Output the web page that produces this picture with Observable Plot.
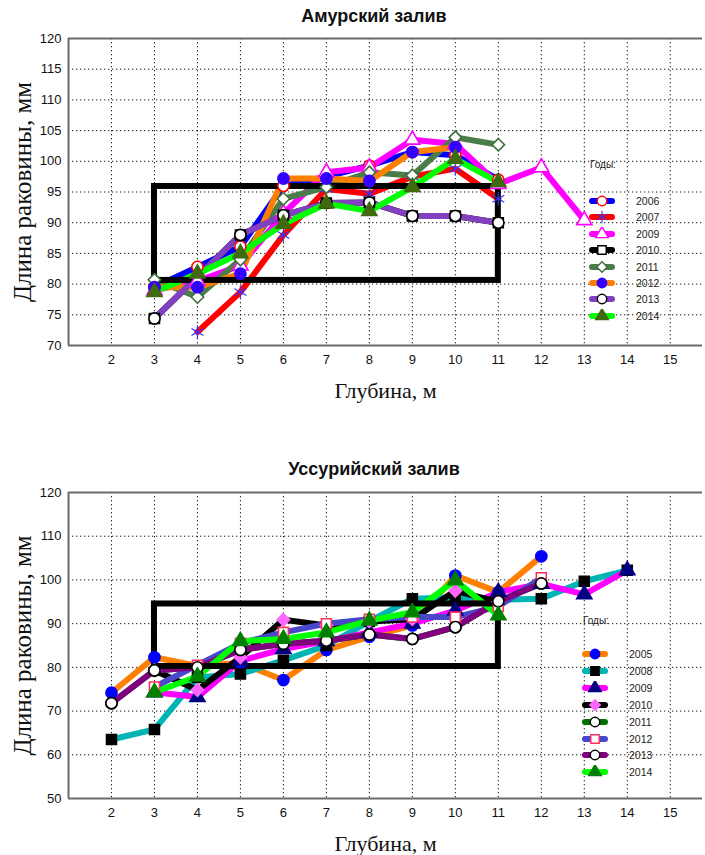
<!DOCTYPE html>
<html><head><meta charset="utf-8">
<script src="https://cdn.jsdelivr.net/npm/d3@7"></script>
<script src="https://cdn.jsdelivr.net/npm/@observablehq/plot@0.6"></script>
<style>
body{margin:0;background:#fff;}
#root{position:relative;width:705px;height:855px;overflow:hidden;background:#fff;font-family:"Liberation Sans",Arial,sans-serif;}
.title{position:absolute;left:224px;width:300px;text-align:center;font-weight:bold;font-size:18px;color:#111;line-height:20px;}
.chart{position:absolute;left:0;}
.leghead{position:absolute;font-size:10px;color:#222;}
.legrow{position:absolute;height:14px;}
.legrow svg{position:absolute;left:0;top:0;}
.legrow span{position:absolute;top:0;line-height:14px;font-size:10.5px;color:#222;}
</style></head><body>
<div id="root"></div>
<script>
// ---------- data ----------
const depths = [2, 3, 4, 5, 6, 7, 8, 9, 10, 11, 12, 13, 14];
const xTicks = [2, 3, 4, 5, 6, 7, 8, 9, 10, 11, 12, 13, 14, 15];
const amurYTicks = [70, 75, 80, 85, 90, 95, 100, 105, 110, 115, 120];
const ussuriYTicks = [50, 60, 70, 80, 90, 100, 110, 120];

const amurTitle = "Амурский залив";
const ussuriTitle = "Уссурийский залив";
const xLabel = "Глубина, м";
const yLabel = "Длина раковины, мм";
const legendHead = "Годы:";

const amurYears = ["2006", "2007", "2009", "2010", "2011", "2012", "2013", "2014"];
const amur2006 = [null, 79.5, 82.8, 86.1, 96.0, 97.5, 99.3, 101.5, 101.0, 97.0, null, null, null];
const amur2007 = [null, null, 72.2, 78.7, 88.0, 95.5, 94.7, 97.5, 98.8, 93.9, null, null, null];
const amur2009 = [null, 79.0, 80.5, 83.0, 91.5, 98.2, 99.0, 103.5, 102.8, 96.3, 99.0, 90.4, null];
const amur2010 = [null, 74.4, null, 88.0, 91.2, 93.2, 93.3, 91.1, 91.1, 90.0, null, null, null];
const amur2011 = [null, 80.7, 77.9, 84.0, 93.9, 95.8, 98.2, 97.7, 103.9, 102.7, null, null, null];
const amur2012 = [null, 79.5, 79.5, 81.7, 97.2, 97.2, 96.8, 101.5, 102.3, null, null, null, null];
const amur2013 = [null, 74.4, null, 88.0, 91.2, 93.2, 93.3, 91.1, 91.1, 90.0, null, null, null];
const amur2014 = [null, 78.7, 81.7, 85.0, 89.8, 93.1, 91.9, 95.8, 100.4, 96.6, null, null, null];
const amurBox = [{x1: 3, x2: 11, y1: 80.6, y2: 95.9}];

const ussuriYears = ["2005", "2008", "2009", "2010", "2011", "2012", "2013", "2014"];
const ussuri2005 = [74.2, 82.3, 80.3, 81.0, 77.1, 84.0, 87.0, 89.6, 101.0, 97.2, 105.4, null, null];
const ussuri2008 = [63.5, 65.8, 77.7, 78.5, 81.6, 85.0, 90.5, 95.7, 96.0, 95.5, 95.7, 99.7, 102.2];
const ussuri2009 = [null, 74.3, 73.2, 81.5, 84.2, 86.0, 88.0, 90.0, 93.0, 97.2, 99.1, 96.7, 102.2];
const ussuri2010 = [null, 79.3, 74.8, 82.3, 90.9, 89.6, 90.5, 91.0, 97.5, 95.0, null, null, null];
const ussuri2011 = [71.8, 79.3, 80.0, 84.0, 85.4, 86.1, 87.5, 86.5, 89.2, 95.1, 99.2, null, null];
const ussuri2012 = [null, 75.5, 80.5, 85.5, 88.0, 90.0, 91.0, 91.5, 91.5, 93.9, 100.5, null, null];
const ussuri2013 = [71.8, 79.3, 80.0, 84.0, 85.4, 86.1, 87.5, 86.5, 89.2, 95.1, 99.2, null, null];
const ussuri2014 = [null, 74.3, 77.9, 86.0, 86.5, 88.0, 90.7, 92.6, 99.9, 91.9, null, null, null];
const ussuriBox = [{x1: 3, x2: 11, y1: 80.2, y2: 94.5}];

// ---------- styles ----------
const amurStyles = [
  {line: "#0000ff", symbol: "circle", fill: "#ffffff", stroke: "#ff0000"},
  {line: "#ff0000", symbol: "asterisk", fill: "none", stroke: "#3333ff"},
  {line: "#ff00ff", symbol: "triangle", fill: "#ffffff", stroke: "#ff00ff"},
  {line: "#000000", symbol: "square", fill: "#ffffff", stroke: "#000000"},
  {line: "#4a7d4a", symbol: "diamond2", fill: "#ffffff", stroke: "#3c6e3c"},
  {line: "#ff8000", symbol: "circle", fill: "#3300ff", stroke: "#3300ff"},
  {line: "#8040c0", symbol: "circle", fill: "#ffffff", stroke: "#000000"},
  {line: "#00ff00", symbol: "triangle", fill: "#3f6a10", stroke: "#3f6a10"}
];
const ussuriStyles = [
  {line: "#ff8000", symbol: "circle", fill: "#0000ff", stroke: "#0000ff"},
  {line: "#00b4b4", symbol: "square", fill: "#000000", stroke: "#000000"},
  {line: "#ff00ff", symbol: "triangle", fill: "#000080", stroke: "#000080"},
  {line: "#000000", symbol: "diamond2", fill: "#ff66ff", stroke: "#ff66ff"},
  {line: "#007000", symbol: "circle", fill: "#ffffff", stroke: "#000000"},
  {line: "#4848c8", symbol: "square", fill: "#ffffff", stroke: "#ff3060"},
  {line: "#800080", symbol: "circle", fill: "#ffffff", stroke: "#000000"},
  {line: "#00ff00", symbol: "triangle", fill: "#008000", stroke: "#008000"}
];

const symbolMap = {circle: d3.symbolCircle, square: d3.symbolSquare, triangle: d3.symbolTriangle, diamond2: d3.symbolDiamond2, asterisk: d3.symbolAsterisk};

function rowsOf(values) {
  return depths.map((d, i) => ({depth: d, value: values[i]})).filter(r => r.value != null);
}

function makeChart(cfg) {
  const series = cfg.values.map(rowsOf);
  const marks = [
    Plot.gridX(xTicks, {stroke: "#000", strokeOpacity: 0.9, strokeWidth: 1, strokeDasharray: "1.3,2.7"}),
    Plot.gridY(cfg.yTicks, {stroke: "#000", strokeOpacity: 0.9, strokeWidth: 1, strokeDasharray: "1.3,2.7"}),
    Plot.ruleX([cfg.xDomain[0]], {stroke: "#6a6a6a", strokeWidth: 2}),
    Plot.ruleY(cfg.yDomain, {stroke: "#6a6a6a", strokeWidth: 2}),
    Plot.axisX({ticks: xTicks, tickSize: 0, tickPadding: 9, fontSize: 13, label: null, tickFormat: d => String(d)}),
    Plot.axisY({ticks: cfg.yTicks, tickSize: 0, tickPadding: 7, fontSize: 13, label: null, tickFormat: d => String(d)})
  ];
  series.forEach((rows, i) => {
    marks.push(Plot.line(rows, {x: "depth", y: "value", stroke: cfg.styles[i].line, strokeWidth: 6, strokeLinejoin: "round", strokeLinecap: "round"}));
  });
  marks.push(Plot.rect(cfg.box, {x1: "x1", x2: "x2", y1: "y1", y2: "y2", fill: "none", stroke: "#000", strokeWidth: 6}));
  series.forEach((rows, i) => {
    const s = cfg.styles[i];
    marks.push(Plot.dot(rows, {x: "depth", y: "value", symbol: s.symbol, r: s.symbol === "asterisk" ? 6.5 : 5.6, fill: s.fill, stroke: s.stroke, strokeWidth: s.symbol === "asterisk" ? 1.2 : 1.6}));
  });
  marks.push(Plot.text([xLabel], {frameAnchor: "bottom", dy: 45, text: d => d, fontFamily: "Liberation Serif", fontSize: 22, fill: "#111", lineAnchor: "middle", textAnchor: "middle"}));
  marks.push(Plot.text([yLabel], {frameAnchor: "left", dx: -46, text: d => d, rotate: -90, fontFamily: "Liberation Serif", fontSize: 25, fill: "#111", lineAnchor: "middle", textAnchor: "middle"}));
  return Plot.plot({
    width: 705,
    height: cfg.height,
    marginLeft: 68,
    marginRight: 3,
    marginTop: cfg.marginTop,
    marginBottom: cfg.marginBottom,
    style: {fontFamily: "Liberation Sans, Arial, sans-serif", color: "#111", background: "transparent", overflow: "visible"},
    x: {domain: cfg.xDomain},
    y: {domain: cfg.yDomain},
    marks
  });
}

function makeLegend(root, years, styles, head, left, headTop, firstY, step, textDx) {
  const h = document.createElement("div");
  h.className = "leghead";
  h.style.left = left + "px";
  h.style.top = (headTop - 7) + "px";
  h.textContent = head;
  root.appendChild(h);
  years.forEach((y, i) => {
    const row = document.createElement("div");
    row.className = "legrow";
    row.style.left = (left - 2) + "px";
    row.style.top = (firstY + i * step - 7) + "px";
    const s = styles[i];
    const svg = d3.create("svg").attr("width", 30).attr("height", 14);
    svg.append("line").attr("x1", 4).attr("x2", 24).attr("y1", 7).attr("y2", 7)
      .attr("stroke", s.line).attr("stroke-width", 6).attr("stroke-linecap", "round");
    svg.append("path").attr("transform", "translate(14,7)")
      .attr("d", d3.symbol(symbolMap[s.symbol], s.symbol === "asterisk" ? 110 : 70)())
      .attr("fill", s.fill).attr("stroke", s.stroke).attr("stroke-width", s.symbol === "asterisk" ? 1.1 : 1.4);
    row.appendChild(svg.node());
    const t = document.createElement("span");
    t.style.left = textDx + "px";
    t.textContent = y;
    row.appendChild(t);
    root.appendChild(row);
  });
}

const root = document.getElementById("root");

const t1 = document.createElement("div");
t1.className = "title"; t1.style.top = "6px"; t1.textContent = amurTitle;
root.appendChild(t1);

const c1 = makeChart({
  values: [amur2006, amur2007, amur2009, amur2010, amur2011, amur2012, amur2013, amur2014],
  styles: amurStyles, yTicks: amurYTicks, yDomain: [70, 120], xDomain: [1, 15.75],
  box: amurBox, height: 375, marginTop: 8, marginBottom: 60
});
const d1 = document.createElement("div");
d1.className = "chart"; d1.style.top = "30px"; d1.appendChild(c1);
root.appendChild(d1);

const t2 = document.createElement("div");
t2.className = "title"; t2.style.top = "459px"; t2.textContent = ussuriTitle;
root.appendChild(t2);

const c2 = makeChart({
  values: [ussuri2005, ussuri2008, ussuri2009, ussuri2010, ussuri2011, ussuri2012, ussuri2013, ussuri2014],
  styles: ussuriStyles, yTicks: ussuriYTicks, yDomain: [50, 120], xDomain: [1, 15.75],
  box: ussuriBox, height: 371, marginTop: 8, marginBottom: 57
});
const d2 = document.createElement("div");
d2.className = "chart"; d2.style.top = "484px"; d2.appendChild(c2);
root.appendChild(d2);

makeLegend(root, amurYears, amurStyles, legendHead, 590, 166, 200.7, 16.45, 48);
makeLegend(root, ussuriYears, ussuriStyles, legendHead, 583, 622, 654, 16.9, 48);
</script>
</body></html>
